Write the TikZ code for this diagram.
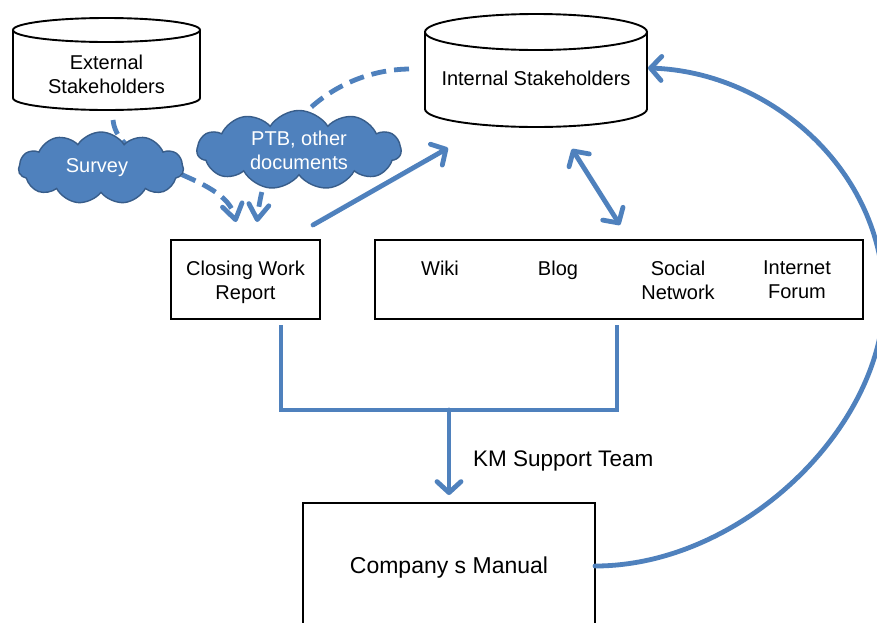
\documentclass[tikz,border=0pt]{standalone}
\usepackage{fontspec}
\setmainfont{Liberation Sans}
\usetikzlibrary{arrows.meta,shapes.symbols,calc}
\definecolor{ob}{HTML}{4F81BD}
\definecolor{obd}{HTML}{385D8A}
\begin{document}
\begin{tikzpicture}[x=1pt,y=-1pt,
  txt/.style={font=\fontsize{20}{24}\selectfont, align=center, inner sep=0pt},
  boxstyle/.style={draw=black, line width=1.8pt, fill=white},
  cylline/.style={draw=black, line width=1.9pt, fill=white},
  conn/.style={draw=ob, line width=4.8pt, line cap=round},
  dconn/.style={draw=ob, line width=4.8pt, dash pattern=on 15pt off 8pt},
  openarrow/.style={-{Straight Barb[length=11pt,width=24pt,round]}},
  dashtip/.style={-{Straight Barb[length=15pt,width=20pt,round]}},
  bothopen/.style={{Straight Barb[length=11pt,width=24pt,round]}-{Straight Barb[length=11pt,width=24pt,round]}},
  cloudnode/.style={cloud, cloud puffs=11, cloud puff arc=115, aspect=2.3, fill=ob, draw=obd, line width=1.4pt, text=white, font=\fontsize{20}{24}\selectfont, align=center, inner sep=0pt}]
\path[use as bounding box, clip] (0,0) rectangle (877,622);
\fill[white] (0,0) rectangle (877,622);

% coordinates
\coordinate (extB) at (113,120);
\coordinate (intL) at (409,69);
\coordinate (t1) at (236,222);
\coordinate (t2) at (257,222);
\coordinate (crwA) at (313,225);
\coordinate (intA) at (448,148);
\coordinate (d1) at (572,149);
\coordinate (d2) at (620,225);
\coordinate (cmR) at (595,566);
\coordinate (intR) at (648,68);
\coordinate (crwB) at (281,325);
\coordinate (webB) at (617,325);
\coordinate (jn) at (449,410);
\coordinate (cmT) at (449,495);

% dashed connectors (drawn below the clouds)
\draw[dconn, dashtip] (extB) .. controls (118,170) and (225,172) .. (t1);
\draw[dconn, dashtip] (intL) .. controls (340,70) and (268,120) .. (t2);

% External stakeholders cylinder
\draw[cylline] (13,30) -- (13,98) arc[start angle=180,end angle=0,x radius=93.5,y radius=12] -- (200,30);
\draw[cylline] (106.5,30) ellipse[x radius=93.5, y radius=12];
\node[txt] (ext) at (106.5,74) {External\\Stakeholders};

% Internal stakeholders cylinder
\draw[cylline] (425,32) -- (425,109) arc[start angle=180,end angle=0,x radius=111,y radius=18] -- (647,32);
\draw[cylline] (536,32) ellipse[x radius=111, y radius=18];
\node[txt] (int) at (536,78) {Internal Stakeholders};

% clouds
\node[cloudnode, minimum width=165pt, minimum height=72pt] (survey) at (101,168) {\hspace*{-8pt}Survey};
\node[cloudnode, minimum width=204pt, minimum height=66pt] (ptb) at (299,150) {PTB, other\\documents};

% boxes
\node[boxstyle, minimum width=149pt, minimum height=79pt] (crw) at (245.5,279.5) {};
\node[txt] (crwtext) at (245.5,282.5) {Closing Work\\Report};
\node[boxstyle, minimum width=488pt, minimum height=79pt] (web) at (619,279.5) {};
\node[txt, anchor=north] (wiki) at (440,261) {Wiki};
\node[txt, anchor=north] (blog) at (558,261) {Blog};
\node[txt, anchor=north] (sn) at (678,261) {Social\\Network};
\node[txt, anchor=north] (forum) at (797,261) {Internet\\Forum};

\draw[boxstyle] (303,503) rectangle (595,640);
\node[txt, font=\fontsize{23}{27}\selectfont] (cm) at (449,568) {Company s Manual};

% solid connectors
\draw[conn, openarrow] (crwA) -- (intA);
\draw[conn, bothopen] (d1) -- (d2);
\draw[conn, openarrow] (cmR) .. controls (740,566) and (882,430) .. (884,300) .. controls (884,170) and (770,72) .. (intR);
\draw[draw=ob, line width=4.8pt, line join=miter] (crwB) |- (jn) -| (webB);
\draw[conn, openarrow] (jn) -- (cmT);
\node[txt, font=\fontsize{22.5}{26}\selectfont, anchor=west] (km) at (473,461) {KM Support Team};
\end{tikzpicture}
\end{document}
